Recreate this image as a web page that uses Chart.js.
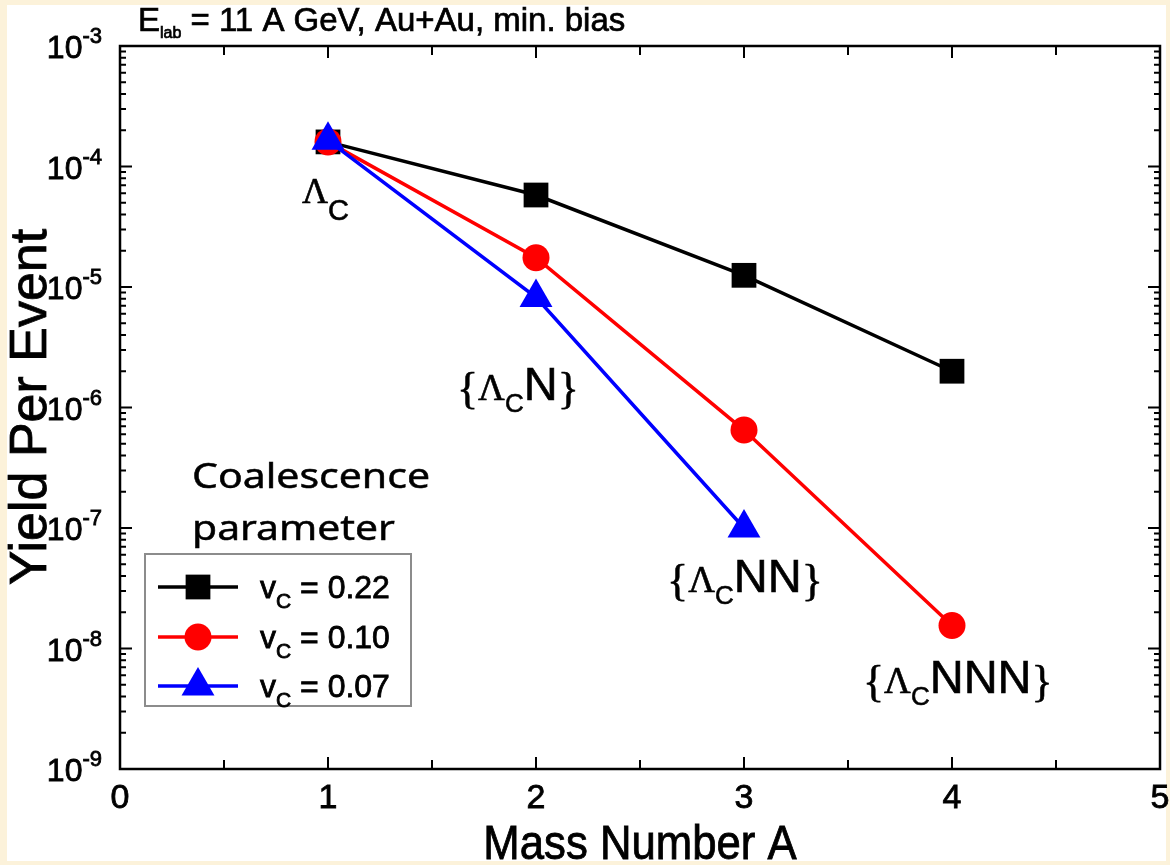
<!DOCTYPE html>
<html>
<head>
<meta charset="utf-8">
<script src="https://cdn.jsdelivr.net/npm/chart.js@4.4.1/dist/chart.umd.min.js"></script>
<style>
  html, body { margin: 0; padding: 0; background: #fcf2da; }
  canvas { display: block; }
</style>
</head>
<body>
<canvas id="yieldCanvas" width="1170" height="865"></canvas>
<script>
// Yield per event vs mass number for three coalescence parameters
const massNumbers = [1, 2, 3, 4];
const yieldVc022 = [1.6e-4, 5.8e-5, 1.25e-5, 2.0e-6];
const yieldVc010 = [1.6e-4, 1.75e-5, 6.5e-7, 1.55e-8];
const yieldVc007 = [1.65e-4, 8.2e-6, 1.0e-7];
const vcLabels = ['0.22', '0.10', '0.07'];
const xTickLabels = ['0', '1', '2', '3', '4', '5'];
const yDecades = [-3, -4, -5, -6, -7, -8, -9];

const SANS = '"Liberation Sans", Arial, sans-serif';
const SERIF = '"Liberation Serif", "Times New Roman", serif';

function toPoints(ys) {
    return ys.map((v, i) => ({ x: massNumbers[i], y: v }));
}

const seriesStyle = [
    { color: '#000000', pointStyle: 'rect', radius: 17.5 },
    { color: '#ff0000', pointStyle: 'circle', radius: 13.5 },
    { color: '#0000ff', pointStyle: 'triangle', radius: 19 }
];

// text runs: [text, font, baseline shift]; a thin outline gives the heavier print look
function drawRuns(ctx, x, y, runs, heavy) {
    ctx.textAlign = 'left';
    ctx.textBaseline = 'alphabetic';
    ctx.strokeStyle = ctx.fillStyle;
    ctx.lineWidth = heavy || 0;
    runs.forEach(r => {
        ctx.font = r[1];
        ctx.fillText(r[0], x, y + (r[2] || 0));
        if (heavy) ctx.strokeText(r[0], x, y + (r[2] || 0));
        x += ctx.measureText(r[0]).width;
    });
    return x;
}

function fitText(ctx, text, font, x, y, width, heavy) {
    ctx.font = font;
    const w = ctx.measureText(text).width;
    ctx.save();
    ctx.translate(x, y);
    ctx.scale(width / w, 1);
    ctx.textAlign = 'left';
    ctx.fillText(text, 0, 0);
    if (heavy) {
        ctx.strokeStyle = ctx.fillStyle;
        ctx.lineWidth = heavy;
        ctx.strokeText(text, 0, 0);
    }
    ctx.restore();
}

const species = [
    { a: 0.875, v: 5.0e-5, brace: false, n: '' },
    { a: 1.62, v: 1.16e-6, brace: true, n: 'N' },
    { a: 2.63, v: 2.92e-8, brace: true, n: 'NN' },
    { a: 3.572, v: 4.3e-9, brace: true, n: 'NNN' }
];

const paperFrame = {
    id: 'paperFrame',
    beforeDraw(chart) {
        const ctx = chart.ctx;
        ctx.save();
        ctx.fillStyle = '#fcf2da';
        ctx.fillRect(0, 0, chart.width, chart.height);
        ctx.fillStyle = '#ffffff';
        ctx.fillRect(7, 5, chart.width - 11, chart.height - 9);
        ctx.restore();
    },
    afterDraw(chart) {
        const { ctx, chartArea: area, scales: { x, y } } = chart;
        ctx.save();

        // axes box with inward ticks
        ctx.strokeStyle = '#000';
        ctx.lineWidth = 2.5;
        ctx.strokeRect(area.left, area.top, area.right - area.left, area.bottom - area.top);
        ctx.lineWidth = 2;
        ctx.beginPath();
        for (let v = 0; v <= 5; v += 0.5) {
            const px = x.getPixelForValue(v);
            const len = v % 1 === 0 ? 12 : 9;
            ctx.moveTo(px, area.bottom); ctx.lineTo(px, area.bottom - len);
            ctx.moveTo(px, area.top); ctx.lineTo(px, area.top + len);
        }
        yDecades.forEach(e => {
            for (let m = 1; m < 10; m++) {
                if (e === -3 && m > 1) break;
                const py = y.getPixelForValue(m * Math.pow(10, e));
                const len = m === 1 ? 12 : 6;
                ctx.moveTo(area.left, py); ctx.lineTo(area.left + len, py);
                ctx.moveTo(area.right, py); ctx.lineTo(area.right - len, py);
            }
        });
        ctx.stroke();

        // tick labels
        ctx.fillStyle = '#000';
        ctx.strokeStyle = '#000';
        ctx.lineWidth = 0.8;
        ctx.font = '34px ' + SANS;
        ctx.textAlign = 'center';
        ctx.textBaseline = 'middle';
        xTickLabels.forEach(t => {
            const px = x.getPixelForValue(Number(t));
            ctx.fillText(t, px, area.bottom + 30);
            ctx.strokeText(t, px, area.bottom + 30);
        });
        yDecades.forEach(e => {
            const py = y.getPixelForValue(Math.pow(10, e));
            ctx.font = '22px ' + SANS;
            const sup = String(e);
            const supW = ctx.measureText(sup).width;
            ctx.font = '32px ' + SANS;
            const baseW = ctx.measureText('10').width;
            const x0 = area.left - 18 - supW - baseW;
            drawRuns(ctx, x0, py + 12, [['10', '32px ' + SANS], [sup, '22px ' + SANS, -15]], 0.8);
        });

        // axis titles
        ctx.save();
        ctx.translate((area.left + area.right) / 2, 859);
        ctx.scale(0.95, 1.06);
        ctx.font = '46px ' + SANS;
        ctx.textAlign = 'center';
        ctx.textBaseline = 'alphabetic';
        ctx.fillText('Mass Number A', 0, 0);
        ctx.lineWidth = 0.8;
        ctx.strokeText('Mass Number A', 0, 0);
        ctx.restore();
        ctx.save();
        ctx.translate(46, 407);
        ctx.rotate(-Math.PI / 2);
        ctx.font = '52px ' + SANS;
        ctx.textAlign = 'center';
        ctx.fillText('Yield Per Event', 0, 0);
        ctx.lineWidth = 0.8;
        ctx.strokeText('Yield Per Event', 0, 0);
        ctx.restore();

        // title
        drawRuns(ctx, 138, 31, [
            ['E', '33px ' + SANS],
            ['lab', '16px ' + SANS, 7],
            [' = 11 A GeV, Au+Au, min. bias', '33px ' + SANS]
        ], 0.7);

        // species labels
        species.forEach(s => {
            const px = x.getPixelForValue(s.a);
            const py = y.getPixelForValue(s.v);
            if (!s.brace) {
                drawRuns(ctx, px, py, [['\u039B', '36px ' + SERIF], ['C', '29px ' + SANS, 17]], 0.6);
            } else {
                drawRuns(ctx, px, py, [
                    ['{', '44px ' + SERIF, 3],
                    ['\u039B', '37px ' + SERIF],
                    ['C', '26px ' + SANS, 12],
                    [s.n, '47px ' + SANS],
                    ['}', '44px ' + SERIF, 3]
                ], 0.6);
            }
        });

        // coalescence parameter legend
        ctx.fillStyle = '#000';
        fitText(ctx, 'Coalescence', '35px "Noto Sans", sans-serif', 192, 488, 238, 0.5);
        fitText(ctx, 'parameter', '35px "Noto Sans", sans-serif', 192, 540, 203, 0.5);

        ctx.fillStyle = '#ffffff';
        ctx.fillRect(145, 554, 266, 152);
        ctx.strokeStyle = '#8c8c8c';
        ctx.lineWidth = 2;
        ctx.strokeRect(145, 554, 266, 152);

        const rows = [587, 637, 686];
        seriesStyle.forEach((st, i) => {
            const ry = rows[i];
            ctx.strokeStyle = st.color;
            ctx.fillStyle = st.color;
            ctx.lineWidth = 3.5;
            ctx.beginPath();
            ctx.moveTo(158, ry); ctx.lineTo(238, ry);
            ctx.stroke();
            Chart.helpers.drawPoint(ctx, { pointStyle: st.pointStyle, radius: st.radius, rotation: 0, borderWidth: 0 }, 198, ry);
            ctx.fillStyle = '#000';
            drawRuns(ctx, 260, ry + 11, [
                ['v', '32px ' + SANS],
                ['C', '21px ' + SANS, 10],
                [' = ' + vcLabels[i], '32px ' + SANS]
            ], 0.8);
        });

        ctx.restore();
    }
};

const datasets = [yieldVc022, yieldVc010, yieldVc007].map((ys, i) => ({
    label: 'v_C = ' + vcLabels[i],
    data: toPoints(ys),
    borderColor: seriesStyle[i].color,
    backgroundColor: seriesStyle[i].color,
    pointBackgroundColor: seriesStyle[i].color,
    pointBorderColor: seriesStyle[i].color,
    pointBorderWidth: 0,
    pointStyle: seriesStyle[i].pointStyle,
    pointRadius: seriesStyle[i].radius,
    borderWidth: 3.5,
    tension: 0,
    order: 3 - i
}));

new Chart(document.getElementById('yieldCanvas').getContext('2d'), {
    type: 'line',
    data: { datasets: datasets },
    options: {
        responsive: false,
        devicePixelRatio: 1,
        animation: false,
        clip: false,
        layout: {
            autoPadding: false,
            padding: { left: 120, top: 46, right: 10, bottom: 96 }
        },
        scales: {
            x: { type: 'linear', min: 0, max: 5, display: false },
            y: { type: 'logarithmic', min: 1e-9, max: 1e-3, display: false }
        },
        plugins: {
            legend: { display: false },
            tooltip: { enabled: false }
        }
    },
    plugins: [paperFrame]
});
</script>
</body>
</html>
